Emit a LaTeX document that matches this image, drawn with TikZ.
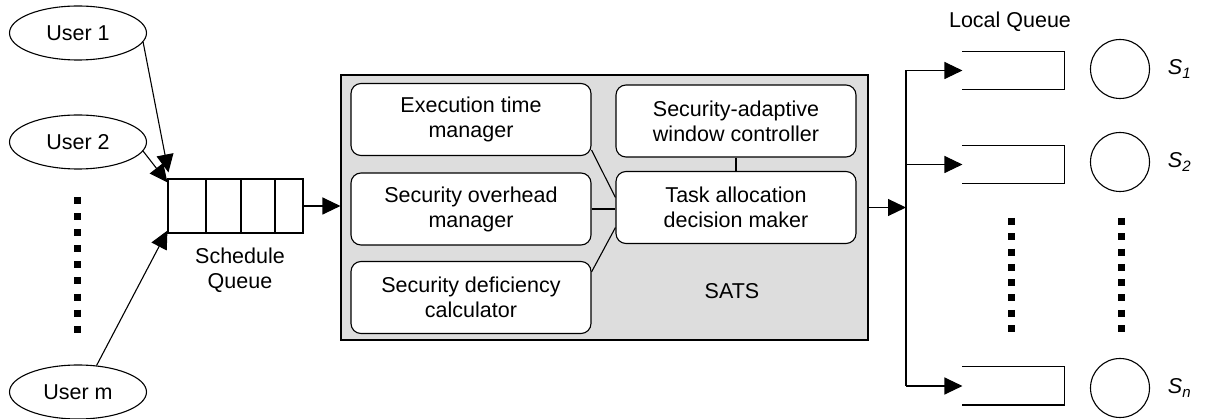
\documentclass[tikz,border=0pt]{standalone}
\usepackage{fontspec}
\setmainfont{Liberation Sans}
\usetikzlibrary{positioning, arrows.meta, shapes.geometric}
\definecolor{satsgray}{RGB}{221,221,221}

\begin{document}
\begin{tikzpicture}[x=1pt,y=-1pt,line width=1.1pt,>={Triangle[length=18pt,width=17pt]},
  font=\fontsize{21.5}{25}\selectfont,
  user/.style={draw,ellipse,minimum width=137pt,minimum height=54pt,inner sep=0pt},
  module/.style={draw,fill=white,rounded corners=10pt,minimum width=240pt,minimum height=72pt,align=center},
  lqueue/.style={minimum width=101pt,minimum height=37pt,inner sep=0pt},
  server/.style={draw,circle,minimum size=59pt,inner sep=0pt},
  vdots/.style={line width=7pt,dash pattern=on 7pt off 8.3pt}]
  \useasboundingbox (0,0) rectangle (1205,419);
  % Users
  \node[user] (u1) at (78,33) {User 1};
  \node[user] (u2) at (78,142) {User 2};
  \node[user] (um) at (78,392) {User m};
  \draw[vdots,dash pattern=on 7pt off 9.1pt] (77,197) -- (77,334);
  % Schedule queue
  \node[draw,minimum width=135pt,minimum height=54pt,inner sep=0pt] (sq) at (235.5,206) {};
  \foreach \x in {206,241,275}
    \draw (\x,179) -- (\x,233);
  \node[align=center,inner sep=0pt] (sqlabel) at (240,270) {Schedule\\Queue};
  \draw[->] (u1.-8) -- ([xshift=1pt,yshift=6pt]sq.north west);
  \draw[->] (u2.-8) -- ([yshift=-4pt]sq.north west);
  \draw[->] (um.55) -- ([yshift=3pt]sq.south west);
  % SATS
  \node[draw,fill=satsgray,minimum width=527pt,minimum height=265pt] (sats) at (604.5,207.5) {};
  \node (satslabel) at (732,291) {SATS};
  \node[module] (exec) at (471,119.5) {Execution time\\manager};
  \node[module] (ovh) at (471,209) {Security overhead\\manager};
  \node[module] (defi) at (471,297.5) {Security deficiency\\calculator};
  \node[module] (win) at (736,121) {Security-adaptive\\window controller};
  \node[module] (task) at (736,207.5) {Task allocation\\decision maker};
  \draw[->] (sq.east) -- (sq.east -| sats.west);
  \draw ([yshift=6pt]exec.south east) -- ([yshift=10pt]task.west);
  \draw (ovh.east) -- (ovh.east -| task.west);
  \draw ([yshift=-11pt]defi.north east) -- ([yshift=-20pt]task.west);
  \draw (win.south) -- (task.north);
  % Local queues and servers
  \coordinate (bus) at (906,207.5);
  \node (lqlabel) at (1010,22) {Local Queue};
  \node[lqueue] (lq1) at (1013.5,70.5) {};
  \node[lqueue] (lq2) at (1013.5,164.5) {};
  \node[lqueue] (lqn) at (1013.5,386) {};
  \foreach \q in {lq1,lq2,lqn} {
    \draw (\q.north west) -- (\q.north east) -- (\q.south east) -- (\q.south west);
    \draw[->] (bus |- \q.west) -- (\q.west);
  }
  \draw (bus |- lq1.west) -- (bus |- lqn.west);
  \draw[->] (sats.east |- task.east) -- (bus);
  \node[server] (s1) at (1120,69) {};
  \node[server] (s2) at (1120,162) {};
  \node[server] (sn) at (1120,388) {};
  \node[right=14pt of s1] (s1label) {\textit{S\textsubscript{1}}};
  \node[right=14pt of s2] (s2label) {\textit{S\textsubscript{2}}};
  \node[right=14pt of sn] (snlabel) {\textit{S\textsubscript{n}}};
  \draw[vdots] (1011,218) -- (1011,333);
  \draw[vdots] (1121,218) -- (1121,333);
\end{tikzpicture}
\end{document}
